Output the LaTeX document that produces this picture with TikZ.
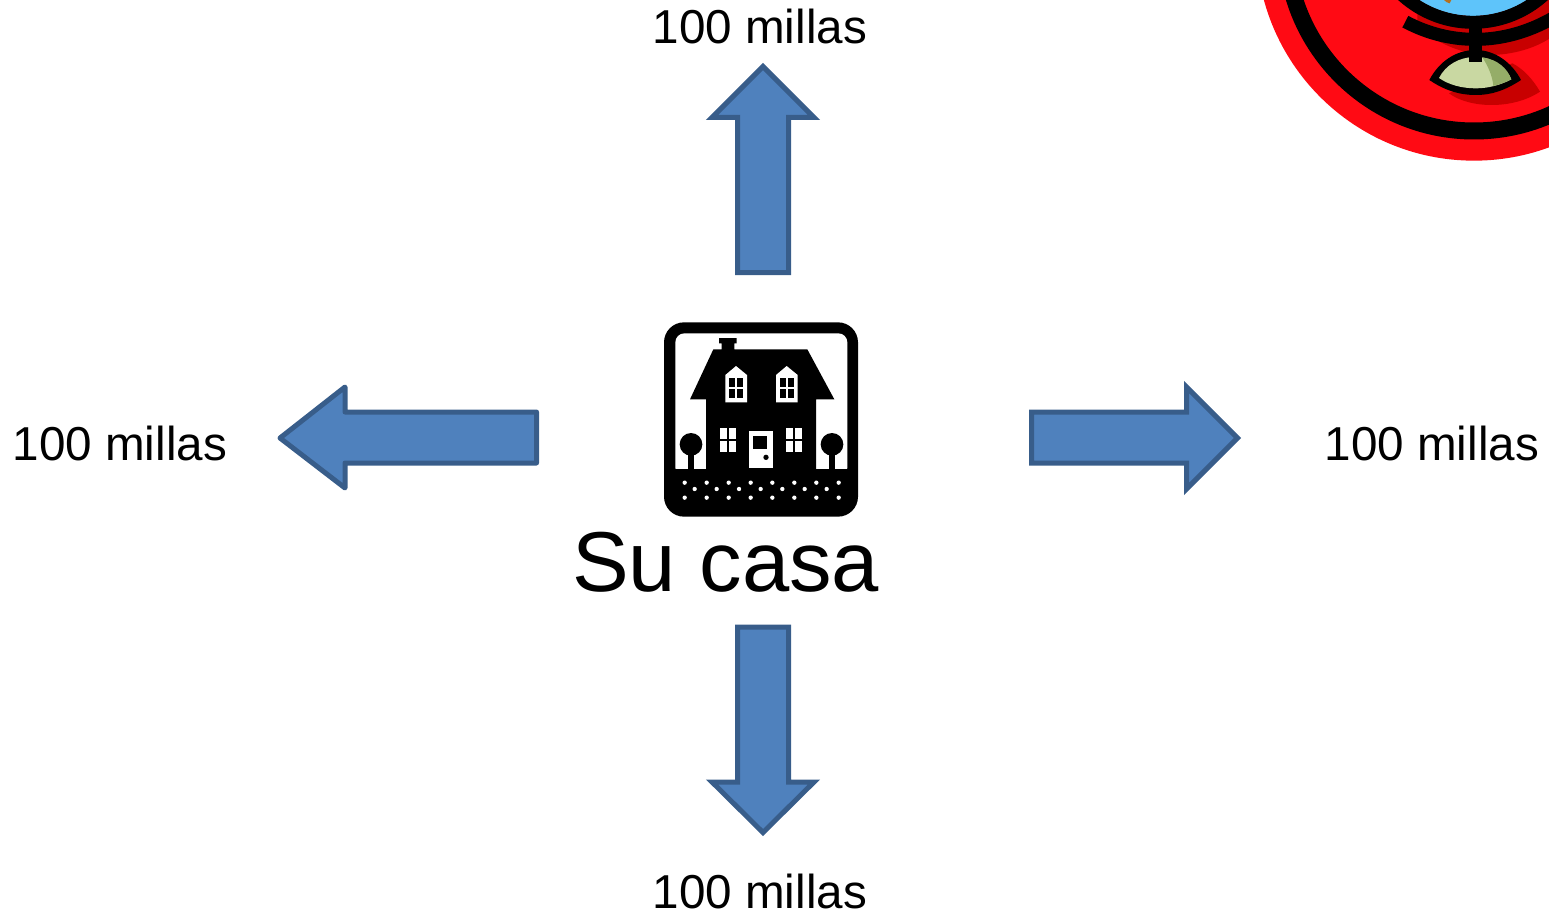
\documentclass[tikz,border=0pt]{standalone}
\usepackage{fontspec}
\setmainfont{Liberation Sans}
\definecolor{arrowfill}{HTML}{4F81BD}
\definecolor{arrowline}{HTML}{385D8A}
\definecolor{globered}{HTML}{FF0A14}
\definecolor{shadowred}{HTML}{C80000}
\definecolor{seablue}{HTML}{5EC4FA}
\definecolor{basegreen}{HTML}{C9D8A2}
\definecolor{basedark}{HTML}{95AD68}
\definecolor{landbrown}{HTML}{B5701E}
\tikzset{
  bigarrow/.style={fill=arrowfill,draw=arrowline,line width=5pt,miter limit=10},
  dist/.style={anchor=base west,inner sep=0pt,font=\fontsize{47.6}{50}\selectfont},
  housefill/.style={fill=black,draw=none},
  holefill/.style={fill=white,draw=none}
}
\begin{document}
\begin{tikzpicture}[x=1pt,y=-1pt]
\useasboundingbox (0,0) rectangle (1549,912);
\clip (0,0) rectangle (1549,912);
% Globe badge
\begin{scope}[shift={(1249,0)},x=0.33333pt,y=-0.33333pt]
\fill[globered] (675,-171) circle[radius=653];
\draw[line width=17pt] (675,-171) circle[radius=564];
\fill[shadowred] (505,80) .. controls (570,135) and (650,165) .. (720,165) .. controls (790,165) and (860,145) .. (910,110) -- (910,0) -- (505,0) -- cycle;
\fill[shadowred] (600,280) .. controls (660,325) and (790,330) .. (873,275) .. controls (850,235) and (820,205) .. (790,190) -- cycle;
\fill[seablue] (672,-249) circle[radius=297];
\fill[landbrown] (583,-2) -- (608,-2) -- (602,10) -- (592,6) -- cycle;
\draw[line width=13pt] (672,-249) circle[radius=316];
\draw[line width=13pt] (469,65) .. controls (600,135) and (760,140) .. (910,55);
\fill[black] (541,240) .. controls (570,185) and (620,150) .. (680,150) .. controls (740,150) and (790,190) .. (816,240) .. controls (770,270) and (730,285) .. (680,285) .. controls (630,285) and (585,270) .. (541,240) -- cycle;
\fill[basegreen] (570,234) .. controls (590,195) and (630,171) .. (680,171) .. controls (730,171) and (770,200) .. (787,238) .. controls (750,257) and (715,265) .. (680,265) .. controls (640,265) and (600,255) .. (570,234) -- cycle;
\fill[basedark] (700,172) .. controls (745,178) and (775,205) .. (787,238) .. controls (770,247) and (750,254) .. (733,258) .. controls (730,225) and (715,195) .. (700,172) -- cycle;
\fill[black] (660,85) rectangle (698,187);
\end{scope}
% House icon
\begin{scope}[shift={(650,310)},x=0.33333pt,y=-0.33333pt]
\fill[black,rounded corners=20pt] (42,37) rectangle (624,620);
\fill[white,rounded corners=9pt] (76,70) -- (592,70) -- (592,500) -- (76,500) -- cycle;
\fill[black] (70,476) rectangle (598,540);
\path[housefill] (120,268) -- (190,118) -- (215,118) -- (215,100) -- (207,100) -- (207,84) -- (260,84) -- (260,100) -- (253,100) -- (253,118) -- (472,118) -- (553,268) -- (498,268) -- (498,480) -- (168,480) -- (168,268) -- cycle;
\foreach \xa in {226,378}{
  \path[holefill] (\xa,195) -- (\xa+32,168) -- (\xa+65,195) -- (\xa+65,277) -- (\xa,277) -- cycle;
  \fill[black] (\xa+12,204) rectangle (\xa+30,232);
  \fill[black] (\xa+35,204) rectangle (\xa+54,232);
  \fill[black] (\xa+12,237) rectangle (\xa+30,264);
  \fill[black] (\xa+35,237) rectangle (\xa+54,264);
}
\foreach \xb in {210,408}{
  \fill[white] (\xb,354) rectangle (\xb+21,388);
  \fill[white] (\xb+27,354) rectangle (\xb+48,388);
  \fill[white] (\xb,393) rectangle (\xb+21,426);
  \fill[white] (\xb+27,393) rectangle (\xb+48,426);
}
\fill[white] (297,363) rectangle (369,473);
\fill[black] (309,379) rectangle (352,416);
\fill[black] (348,442) circle[radius=8];
\foreach \xc in {123,546}{
  \fill[black] (\xc,403) circle[radius=34];
  \fill[black] (\xc-8,430) rectangle (\xc+8,480);
}
\foreach \xd in {104,170,236,302,367,433,499,566}{
  \fill[white] (\xd,518) circle[radius=6.5];
  \fill[white] (\xd,563) circle[radius=6.5];
}
\foreach \xe in {134,200,267,332,397,464,530}{
  \fill[white] (\xe,537) circle[radius=6.5];
}
\end{scope}
% Arrows
\draw[bigarrow] (763,66.5) -- (814,117.5) -- (788.5,117.5) -- (788.5,272.5) -- (737.5,272.5) -- (737.5,117.5) -- (712,117.5) -- cycle;
\draw[bigarrow] (763,832.5) -- (814,782) -- (788.5,782) -- (788.5,627) -- (737.5,627) -- (737.5,782) -- (712,782) -- cycle;
\draw[bigarrow,line join=round] (280,438) -- (345,387) -- (345,412) -- (536.5,412) -- (536.5,463) -- (345,463) -- (345,488) -- cycle;
\draw[bigarrow] (1237.5,438) -- (1186.5,387) -- (1186.5,412) -- (1031.5,412) -- (1031.5,463) -- (1186.5,463) -- (1186.5,489) -- cycle;
% Labels
\node[dist] (top) at (652.5,44) {100 millas};
\node[dist] (left) at (12.5,460) {100 millas};
\node[dist] (right) at (1324.5,460) {100 millas};
\node[dist] (bottom) at (652.5,908) {100 millas};
\node[anchor=base west,inner sep=0pt,font=\fontsize{85}{90}\selectfont] (casa) at (572,591.5) {Su casa};
\end{tikzpicture}
\end{document}
